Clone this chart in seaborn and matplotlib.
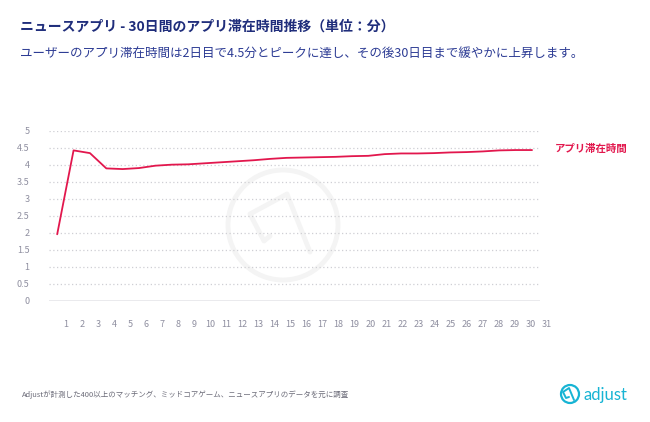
import numpy as np
import pandas as pd
import matplotlib
matplotlib.use("Agg")
import matplotlib.pyplot as plt
import seaborn as sns
from matplotlib.patches import Circle

days = list(range(1, 31))
minutes = [1.95, 4.42, 4.34, 3.89, 3.87, 3.90, 3.97, 4.00, 4.01, 4.04,
           4.07, 4.10, 4.13, 4.17, 4.20, 4.21, 4.22, 4.23, 4.25, 4.26,
           4.31, 4.33, 4.33, 4.34, 4.36, 4.37, 4.39, 4.42, 4.43, 4.43]
tick_labels = [str(i) for i in range(1, 32)]
y_ticks = [0, 0.5, 1, 1.5, 2, 2.5, 3, 3.5, 4, 4.5, 5]
y_tick_labels = ["0", "0.5", "1", "1.5", "2", "2.5", "3", "3.5", "4", "4.5", "5"]
series_name = "アプリ滞在時間"
title = "ニュースアプリ - 30日間のアプリ滞在時間推移（単位：分）"
subtitle = "ユーザーのアプリ滞在時間は2日目で4.5分とピークに達し、その後30日目まで緩やかに上昇します。"
footer = "Adjustが計測した400以上のマッチング、ミッドコアゲーム、ニュースアプリのデータを元に調査"

sns.set_theme(style="white")
plt.rcParams['font.family'] = ['Noto Sans CJK JP', 'DejaVu Sans']

W, H = 650, 422
fig = plt.figure(figsize=(W / 100, H / 100), dpi=100)
fig.patch.set_facecolor("white")

# overlay axes in pixel coords for watermark and logo
ov = fig.add_axes([0, 0, 1, 1], zorder=0)
ov.set_xlim(0, W)
ov.set_ylim(H, 0)
ov.axis("off")
wm = "#f4f4f4"
ov.add_patch(Circle((283, 225), 55, fill=False, ec=wm, lw=3.5))
ov.plot([310, 287, 250, 264, 270], [252, 194, 214, 241, 236], color=wm, lw=3.5,
        solid_capstyle="round", solid_joinstyle="round")

cyan = "#17b4d4"
ov.add_patch(Circle((570, 394), 9, fill=False, ec=cyan, lw=1.6))
ov.plot([574, 569, 563, 566, 569], [400, 388, 392, 398, 397], color=cyan, lw=1.4,
        solid_capstyle="round", solid_joinstyle="round")
ov.text(583, 395, "adjust", color=cyan, fontsize=12, family=["Lato", "DejaVu Sans"],
        va="center", ha="left")

ax = fig.add_axes([49 / W, 1 - 300.5 / H, 499.4 / W, 169.8 / H], zorder=1)
ax.patch.set_alpha(0)

df = pd.DataFrame({"day": days, "minutes": minutes})
line_color = "#e2174d"
sns.lineplot(data=df, x="day", y="minutes", ax=ax, color=line_color, lw=1.3)

ax.set_xlim(0.5, 31)
ax.set_ylim(0, 5)
for y in y_ticks[1:]:
    ax.hlines(y, 0.5, 30.5, colors="#cfcfd4", linestyles=(0, (1, 2)), lw=0.9, zorder=0)
ax.hlines(0, 0.5, 30.5, colors="#e6e6ea", lw=1.2, zorder=0)

ax.set_yticks(y_ticks)
ax.set_yticklabels(y_tick_labels)
ax.set_xticks(np.linspace(1.55, 30.9, 31))
ax.set_xticklabels(tick_labels)
ax.tick_params(axis="both", length=0, labelsize=6.5, labelcolor="#8f8fa0")
ax.tick_params(axis="y", pad=14)
ax.tick_params(axis="x", pad=14)
for s in ax.spines.values():
    s.set_visible(False)
ax.set_xlabel("")
ax.set_ylabel("")
ax.grid(False)

ax.text(31.4, minutes[-1] + 0.03, series_name, color=line_color, fontsize=7.5,
        fontweight="bold", va="center", ha="left")

fig.text(20 / W, 1 - 27 / H, title, color="#1f2d7b", fontsize=10, fontweight="bold",
         va="center", ha="left")
fig.text(20 / W, 1 - 53 / H, subtitle, color="#2c3b94", fontsize=9.0,
         va="center", ha="left")
fig.text(22 / W, 1 - 395 / H, footer, color="#6b6b78", fontsize=5.4,
         va="center", ha="left")

fig.savefig("out.png", dpi=100, facecolor="white")
